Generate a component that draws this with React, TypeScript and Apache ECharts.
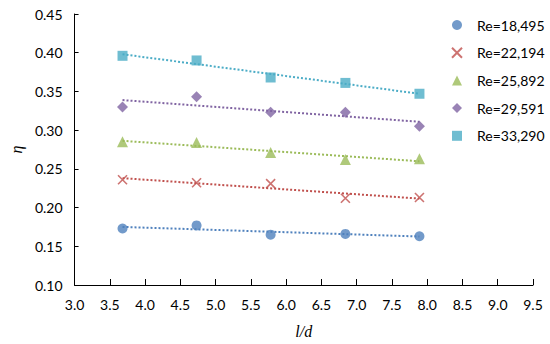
import React, { useEffect, useRef } from "react";
import * as echarts from "echarts";

const ldValues = [3.68, 4.73, 5.78, 6.84, 7.89];
const seriesNames = ["Re=18,495", "Re=22,194", "Re=25,892", "Re=29,591", "Re=33,290"];
const re18495 = [0.173, 0.177, 0.165, 0.166, 0.163];
const re22194 = [0.236, 0.232, 0.231, 0.212, 0.213];
const re25892 = [0.285, 0.284, 0.271, 0.262, 0.263];
const re29591 = [0.330, 0.343, 0.323, 0.323, 0.305];
const re33290 = [0.396, 0.390, 0.368, 0.361, 0.347];
const trendX = [3.68, 7.89];
const trend18495 = [0.175, 0.1626];
const trend22194 = [0.238, 0.2116];
const trend25892 = [0.2862, 0.2598];
const trend29591 = [0.3388, 0.3108];
const trend33290 = [0.398, 0.347];
const xTicks = ["3.0", "3.5", "4.0", "4.5", "5.0", "5.5", "6.0", "6.5", "7.0", "7.5", "8.0", "8.5", "9.0", "9.5"];

const allValues = [re18495, re22194, re25892, re29591, re33290];
const allTrends = [trend18495, trend22194, trend25892, trend29591, trend33290];
const colors = ["#4F81BD", "#C0504D", "#9BBB59", "#8064A2", "#4BACC6"];
const symbols = ["circle", "path://M0,0L10,10M10,0L0,10", "triangle", "diamond", "rect"];
const sizes = [10, 9, 11, 11, 10];

export default function App() {
  const ref = useRef<HTMLDivElement>(null);
  useEffect(() => {
    const chart = echarts.init(ref.current!, null, { renderer: "svg" });
    const font = "Lato, 'Open Sans', sans-serif";
    const scatter = allValues.map((vals, i) => ({
      name: seriesNames[i],
      type: "scatter",
      symbol: symbols[i],
      symbolSize: sizes[i],
      itemStyle: i === 1
        ? { color: colors[i], borderColor: colors[i], borderWidth: 1.6 }
        : { color: colors[i] },
      data: vals.map((v, j) => [ldValues[j], v]),
      z: 3,
    }));
    const trends = allTrends.map((t, i) => ({
      name: "trend" + i,
      type: "line",
      symbol: "none",
      silent: true,
      lineStyle: { color: colors[i], width: 2, type: [2, 2] },
      data: t.map((v, j) => [trendX[j], v]),
      z: 2,
    }));
    chart.setOption({
      animation: false,
      textStyle: { fontFamily: font },
      grid: { left: 68, right: 17, top: 14, bottom: 58 },
      legend: {
        data: seriesNames,
        orient: "vertical",
        left: 451,
        top: 18,
        padding: 0,
        itemGap: 13.7,
        itemWidth: 10,
        itemHeight: 10,
        textStyle: { fontFamily: font, fontSize: 14, color: "#000", padding: [0, 0, 0, 10] },
      },
      xAxis: {
        type: "value",
        min: 3.0,
        max: 9.5,
        interval: 0.5,
        name: "l/d",
        nameLocation: "middle",
        nameGap: 38,
        nameTextStyle: { fontFamily: "'Liberation Serif', serif", fontStyle: "italic", fontSize: 16, color: "#000" },
        axisLine: { lineStyle: { color: "#000", width: 1 } },
        axisTick: { inside: true, length: 6, lineStyle: { color: "#000" } },
        axisLabel: {
          fontSize: 14, color: "#000", margin: 12,
          formatter: (v: number) => xTicks[Math.round((v - 3) / 0.5)] ?? v.toFixed(1),
        },
        splitLine: { show: false },
      },
      yAxis: {
        type: "value",
        min: 0.1,
        max: 0.45,
        interval: 0.05,
        name: "η",
        nameLocation: "middle",
        nameGap: 50,
        nameTextStyle: { fontFamily: "'Liberation Serif', serif", fontStyle: "italic", fontSize: 16, color: "#000" },
        axisLine: { show: true, lineStyle: { color: "#000", width: 1 } },
        axisTick: { show: true, inside: true, length: 4, lineStyle: { color: "#000" } },
        axisLabel: { fontSize: 14, color: "#000", margin: 12, formatter: (v: number) => v.toFixed(2) },
        splitLine: { show: false },
      },
      series: [...trends, ...scatter],
    });
    return () => chart.dispose();
  }, []);
  return <div ref={ref} style={{ width: 550, height: 344, position: "absolute", left: 0, top: 0 }} />;
}
